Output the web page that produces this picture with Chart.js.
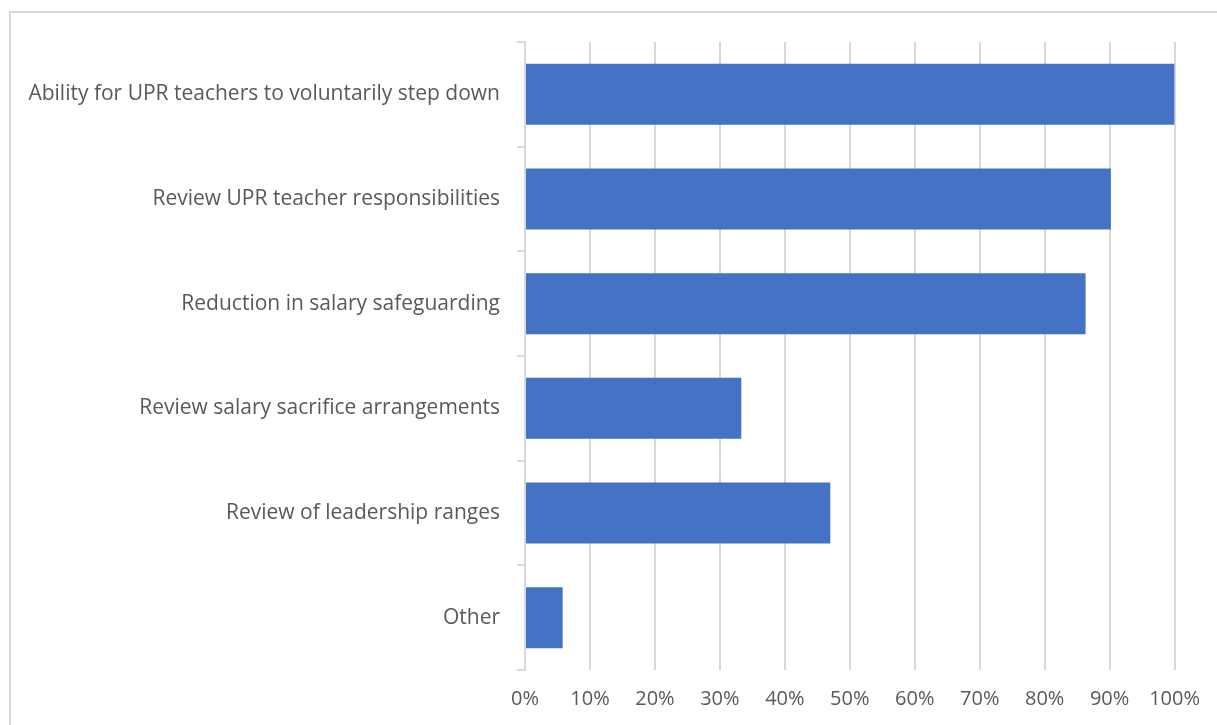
<!DOCTYPE html>
<html>
<head>
<meta charset="utf-8">
<script src="https://cdn.jsdelivr.net/npm/chart.js@4.4.1/dist/chart.umd.min.js"></script>
<style>
  html, body { margin: 0; padding: 0; background: #ffffff; }
  #wrap { position: relative; width: 1217px; height: 725px; overflow: hidden; }
  /* grey chart frame (top + left edge) */
  #frame {
    position: absolute; left: 9px; top: 11px; width: 1300px; height: 800px;
    border-top: 2px solid #d9d9d9; border-left: 2px solid #d9d9d9;
  }
  canvas { position: absolute; left: 0; top: 0; }
</style>
</head>
<body>
<div id="wrap">
  <div id="frame"></div>
  <canvas id="optionsChart" width="1217" height="725"></canvas>
</div>
<script>
// categories and share of responses (%)
const categories = [
  'Ability for UPR teachers to voluntarily step down',
  'Review UPR teacher responsibilities',
  'Reduction in salary safeguarding',
  'Review salary sacrifice arrangements',
  'Review of leadership ranges',
  'Other'
];
const percentValues = [100, 90.2, 86.3, 33.3, 47.0, 5.8];
const tickStep = 10;
const axisMax = 100;

const textColor = '#595959';
const lineColor = '#d9d9d9';
const fontFamily = '"Open Sans", "Liberation Sans", sans-serif';

const ctx = document.getElementById('optionsChart').getContext('2d');
new Chart(ctx, {
  type: 'bar',
  data: {
    labels: categories,
    datasets: [{
      data: percentValues,
      backgroundColor: '#4472c4',
      borderWidth: 0,
      categoryPercentage: 1,
      barPercentage: 0.583
    }]
  },
  options: {
    indexAxis: 'y',
    responsive: false,
    animation: false,
    layout: { padding: { top: 42, right: 42, left: 0, bottom: 0 } },
    plugins: {
      legend: { display: false },
      tooltip: { enabled: false }
    },
    scales: {
      x: {
        min: 0,
        max: axisMax,
        border: { display: false },
        grid: { color: lineColor, lineWidth: 2, drawTicks: false },
        ticks: {
          stepSize: tickStep,
          padding: 17,
          color: textColor,
          font: { family: fontFamily, size: 20 },
          callback: v => v + '%'
        },
        afterFit: scale => { scale.height = 55; }
      },
      y: {
        offset: true,
        border: { display: true, color: lineColor, width: 2 },
        grid: {
          offset: true,
          drawOnChartArea: false,
          drawTicks: true,
          tickLength: 8,
          color: lineColor,
          lineWidth: 2
        },
        ticks: {
          padding: 17,
          color: textColor,
          font: { family: fontFamily, size: 21 }
        },
        afterFit: scale => { scale.width = 525; }
      }
    }
  }
});
</script>
</body>
</html>
